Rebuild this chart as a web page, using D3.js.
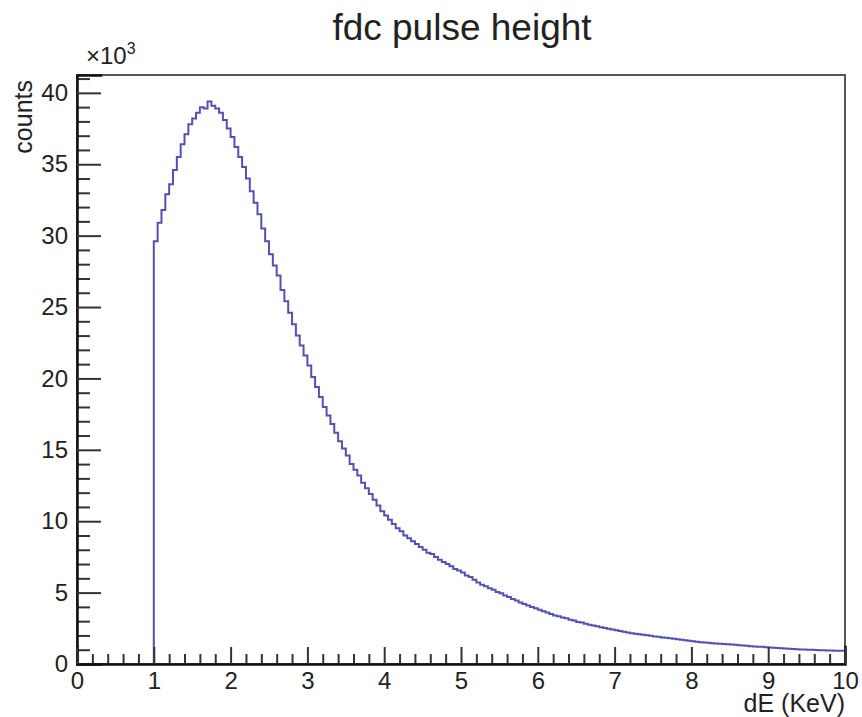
<!DOCTYPE html>
<html>
<head>
<meta charset="utf-8">
<script src="https://cdn.jsdelivr.net/npm/d3@7"></script>
<style>
  body { margin: 0; background: #fff; }
  svg { display: block; }
  text { font-family: "Liberation Sans", Arial, Helvetica, sans-serif; fill: #222; }
</style>
</head>
<body>
<svg id="chart" width="862" height="717"></svg>
<script>
// Histogram: fdc pulse height, 200 bins of 0.05 KeV from 0 to 10 KeV
const xMin = 0, xMax = 10, binWidth = 0.05;
const yMax = 41250;

// Bin contents (counts); bins below 1 KeV are empty (threshold)
const emptyBins = new Array(20).fill(0);
const binCounts = emptyBins.concat([
  29600, 30900, 31800, 32900, 33600, 34600, 35500, 36400, 37100, 37800,
  38200, 38600, 39000, 38900, 39400, 39100, 38900, 38600, 38100, 37500,
  36900, 36200, 35500, 34800, 34000, 33100, 32300, 31500, 30500, 29600,
  28700, 27900, 27200, 26200, 25400, 24600, 23800, 23000, 22300, 21600,
  20900, 20100, 19400, 18700, 18000, 17400, 16800, 16200, 15600, 15100,
  14600, 14000, 13600, 13200, 12700, 12300, 11900, 11500, 11100, 10700,
  10400, 10100, 9800, 9500, 9300, 9000, 8800, 8600, 8400, 8200,
  8000, 7800, 7700, 7500, 7300, 7150, 7000, 6850, 6650, 6550,
  6400, 6200, 6100, 5900, 5700, 5550, 5450, 5300, 5200, 5050,
  4950, 4800, 4700, 4550, 4450, 4300, 4200, 4100, 4000, 3900,
  3800, 3700, 3600, 3500, 3400, 3350, 3250, 3200, 3100, 3050,
  2950, 2900, 2820, 2750, 2700, 2640, 2580, 2520, 2460, 2420,
  2360, 2310, 2260, 2210, 2160, 2120, 2090, 2050, 2010, 1970,
  1930, 1900, 1860, 1830, 1800, 1760, 1730, 1700, 1660, 1630,
  1590, 1560, 1530, 1510, 1480, 1460, 1440, 1420, 1400, 1380,
  1360, 1340, 1310, 1290, 1270, 1250, 1230, 1210, 1200, 1180,
  1160, 1140, 1120, 1100, 1080, 1070, 1050, 1040, 1020, 1010,
  1000, 990, 980, 970, 960, 950, 940, 930, 920, 920
]);

const xMajorTicks = [0, 1, 2, 3, 4, 5, 6, 7, 8, 9, 10];
const xMinorTicks = d3.range(0, 50).map(i => i * 0.2).filter(v => Math.abs(v - Math.round(v)) > 1e-6);
const yMajorTicks = [0, 5000, 10000, 15000, 20000, 25000, 30000, 35000, 40000];
const yMinorTicks = d3.range(1, 42).map(i => i * 1000).filter(v => v % 5000 !== 0 && v <= yMax);

const titleText = "fdc pulse height";
const xTitle = "dE (KeV)";
const yTitle = "counts";

// Frame geometry
const frameL = 77, frameR = 845, frameT = 75, frameB = 664;
const svg = d3.select("#chart");

const x = d3.scaleLinear().domain([xMin, xMax]).range([frameL, frameR]);
const y = d3.scaleLinear().domain([0, yMax]).range([frameB, frameT]);

// Frame
svg.append("rect")
  .attr("x", frameL).attr("y", frameT)
  .attr("width", frameR - frameL).attr("height", frameB - frameT)
  .attr("fill", "none").attr("stroke", "#555").attr("stroke-width", 2);

// Histogram outline (step line through bin edges)
const pts = binCounts.map((c, i) => [xMin + i * binWidth, c]);
pts.push([xMax, binCounts[binCounts.length - 1]]);
const step = d3.line().x(d => x(d[0])).y(d => y(d[1])).curve(d3.curveStepAfter);
svg.append("path")
  .attr("d", step(pts))
  .attr("fill", "none")
  .attr("stroke", "#5252b2")
  .attr("stroke-width", 2)
  .attr("stroke-linejoin", "miter");

// Axes
function styleAxis(g, width) {
  g.select(".domain").attr("stroke", "#111").attr("stroke-width", width);
  g.selectAll(".tick line").attr("stroke", "#333").attr("stroke-width", 2);
}

const yMinorG = svg.append("g").attr("transform", `translate(${frameL},0)`)
  .call(d3.axisLeft(y).tickValues(yMinorTicks).tickSize(-13).tickFormat(""));
yMinorG.select(".domain").remove();
yMinorG.selectAll(".tick line").attr("stroke", "#333").attr("stroke-width", 2);

const xMinorG = svg.append("g").attr("transform", `translate(0,${frameB})`)
  .call(d3.axisBottom(x).tickValues(xMinorTicks).tickSize(-10).tickFormat(""));
xMinorG.select(".domain").remove();
xMinorG.selectAll(".tick line").attr("stroke", "#333").attr("stroke-width", 2);

const yAxisG = svg.append("g").attr("transform", `translate(${frameL},0)`)
  .call(d3.axisLeft(y).tickValues(yMajorTicks).tickSize(-24).tickPadding(9)
    .tickFormat(d => d3.format("d")(d / 1000)));
styleAxis(yAxisG, 2.5);
yAxisG.selectAll(".tick text").attr("font-size", 24).attr("fill", "#222");

const xAxisG = svg.append("g").attr("transform", `translate(0,${frameB})`)
  .call(d3.axisBottom(x).tickValues(xMajorTicks).tickSize(-17).tickPadding(8)
    .tickFormat(d3.format("d")));
styleAxis(xAxisG, 2.5);
xAxisG.selectAll(".tick text").attr("font-size", 24).attr("fill", "#222");
svg.selectAll(".domain").attr("stroke-linecap", "square");

// Titles
svg.append("text")
  .attr("x", 462).attr("y", 40)
  .attr("text-anchor", "middle")
  .attr("font-size", 37)
  .text(titleText);

svg.append("text")
  .attr("x", frameR).attr("y", 712)
  .attr("text-anchor", "end")
  .attr("font-size", 25)
  .text(xTitle);

svg.append("text")
  .attr("transform", `translate(32,${frameT + 5}) rotate(-90)`)
  .attr("text-anchor", "end")
  .attr("font-size", 25)
  .text(yTitle);

// Exponent of the y-axis labels
const expo = svg.append("text").attr("x", 86).attr("y", 64).attr("font-size", 24);
expo.append("tspan").text("×10");
expo.append("tspan").attr("dy", -10).attr("font-size", 16).text("3");
</script>
</body>
</html>
